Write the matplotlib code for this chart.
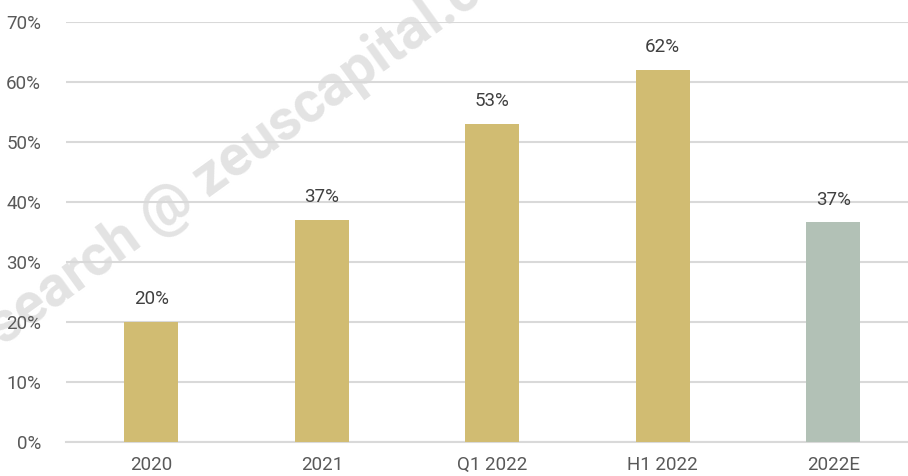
import matplotlib.pyplot as plt
from matplotlib.ticker import FuncFormatter

plt.rcParams['font.family'] = ['Roboto', 'DejaVu Sans']

categories = ['2020', '2021', 'Q1 2022', 'H1 2022', '2022E']
values = [20, 37, 53, 62, 36.6]
labels = ['20%', '37%', '53%', '62%', '37%']
colors = ['#d1bc72', '#d1bc72', '#d1bc72', '#d1bc72', '#b2c1b6']

fig = plt.figure(figsize=(9.08, 4.76), dpi=100)
ax = fig.add_axes([66 / 908, 34 / 476, 1 - 66 / 908, 420 / 476])

x = range(len(categories))
ax.bar(x, values, width=0.317, color=colors, zorder=3)
for i, (v, lab) in enumerate(zip(values, labels)):
    ax.annotate(lab, (i, v), xytext=(0, 10), textcoords='offset points',
                ha='center', va='bottom', fontsize=13.5, color='#404040', zorder=4)

ax.set_ylim(0, 70)
ax.set_xlim(-0.5, (908 - 66) / 170.5 - 0.5)
ax.set_yticks(range(0, 71, 10))
ax.yaxis.set_major_formatter(FuncFormatter(lambda v, p: f'{v:.0f}%'))
ax.set_xticks(list(x))
ax.set_xticklabels(categories)
ax.tick_params(axis='both', length=0, labelsize=13.5, labelcolor='#595959')
ax.tick_params(axis='y', pad=18)
ax.tick_params(axis='x', pad=10)
ax.grid(axis='y', color='#d9d9d9', linewidth=1.5, zorder=0)
for s in ['top', 'right', 'left']:
    ax.spines[s].set_visible(False)
ax.spines['bottom'].set_color('#d9d9d9')
ax.spines['bottom'].set_linewidth(1.5)

# watermark (cut by the figure edges, as in the source), under the tick labels
ax.text(240 / 908, 1 - 156 / 476, 'Research @ zeuscapital.com', rotation=35.8,
        rotation_mode='anchor', ha='center', va='center', fontsize=41,
        fontweight='bold', color='#dedede', alpha=0.85, zorder=1,
        transform=fig.transFigure, clip_on=False)

fig.savefig('out.png', dpi=100)
